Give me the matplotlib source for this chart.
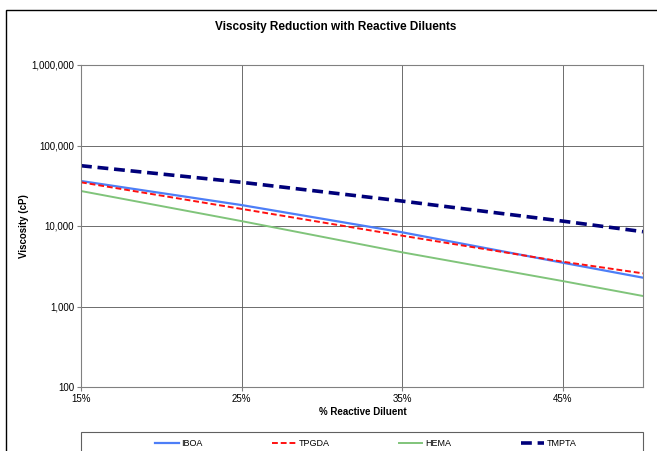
import matplotlib.pyplot as plt
from matplotlib.patches import Rectangle
from matplotlib.ticker import FuncFormatter

plt.rcParams['font.family'] = ['Liberation Sans', 'DejaVu Sans']

# values
diluent_pct = [0.15, 0.25, 0.35, 0.45, 0.50]
iboa = [36200, 18200, 8350, 3500, 2280]
tpgda = [34900, 16300, 7580, 3600, 2580]
hema = [27200, 11500, 4710, 2070, 1350]
tmpta = [56100, 34900, 20400, 11500, 8500]
series_names = ['IBOA', 'TPGDA', 'HEMA', 'TMPTA']
x_ticks = [0.15, 0.25, 0.35, 0.45]
y_ticks = [100, 1000, 10000, 100000, 1000000]

fig = plt.figure(figsize=(6.57, 4.51), dpi=100)
ax = fig.add_axes([81/657, 1-387/451, (643-81)/657, (387-65)/451])

ax.plot(diluent_pct, iboa, color='#4d7ef7', lw=1.6, label=series_names[0])
ax.plot(diluent_pct, tpgda, color='#ff1010', lw=1.4, ls=(0, (3, 1.5)), label=series_names[1])
ax.plot(diluent_pct, hema, color='#80c47a', lw=1.4, label=series_names[2])
ax.plot(diluent_pct, tmpta, color='#00007a', lw=2.6, ls=(0, (3, 1.6)), label=series_names[3])

ax.set_yscale('log')
ax.set_ylim(100, 1000000)
ax.set_xlim(0.15, 0.50)
ax.set_yticks(y_ticks)
ax.minorticks_off()
ax.yaxis.set_major_formatter(FuncFormatter(lambda v, p: f'{v:,.0f}'))
ax.set_xticks(x_ticks)
ax.xaxis.set_major_formatter(FuncFormatter(lambda v, p: f'{v*100:.0f}%'))
ax.tick_params(labelsize=7, length=3, color='#808080', pad=2)
ax.grid(True, color='#555555', lw=0.6)
for s in ax.spines.values():
    s.set_color('#808080')
    s.set_linewidth(0.8)

fig.text(0.511, 0.94, 'Viscosity Reduction with Reactive Diluents',
         ha='center', va='center', fontsize=8.5, fontweight='bold')
fig.text(0.552, 0.087, '% Reactive Diluent', ha='center', va='center',
         fontsize=7, fontweight='bold')
fig.text(0.036, 0.499, 'Viscosity (cP)', ha='center', va='center',
         rotation=90, fontsize=7, fontweight='bold')

# outer chart border (cut off at right and bottom)
fig.patches.append(Rectangle((6/657, -0.2), 1.2, 1-10/451+0.2, transform=fig.transFigure,
                             fill=False, edgecolor='black', lw=1, clip_on=False))
# legend box
fig.patches.append(Rectangle((81/657, -0.2), (643-81)/657, 1-432/451+0.2,
                             transform=fig.transFigure, fill=False,
                             edgecolor='#606060', lw=0.8, clip_on=False))
handles, labels = ax.get_legend_handles_labels()
fig.legend(handles, labels, loc='center', bbox_to_anchor=(0.557, 1-444/451), ncol=4,
           frameon=False, fontsize=6.5, handlelength=2.6, handletextpad=0.3,
           columnspacing=7.7)

fig.savefig('out.png', dpi=100)
